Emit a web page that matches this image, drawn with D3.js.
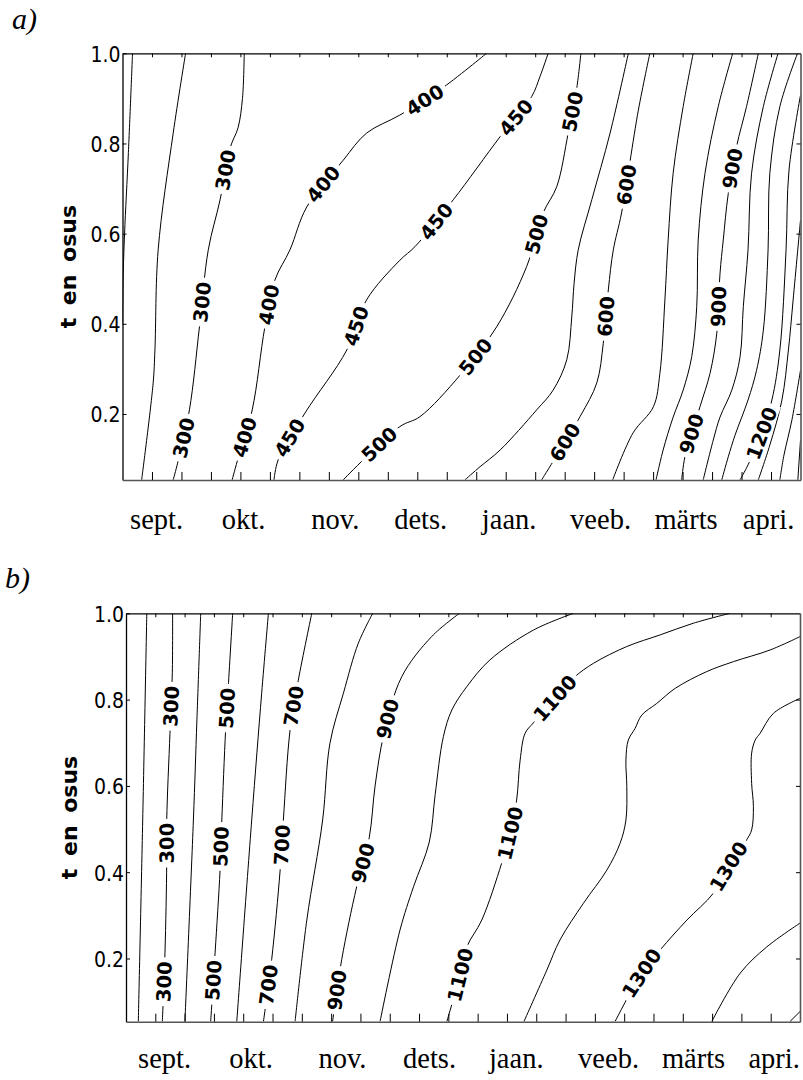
<!DOCTYPE html>
<html><head><meta charset="utf-8">
<script src="https://cdn.jsdelivr.net/npm/d3@7"></script>
<style>body{margin:0;background:#fff}</style>
</head><body>
<svg id="chart" width="803" height="1080"></svg>
<script>
// ---------- data ----------
const months = ["sept.","okt.","nov.","dets.","jaan.","veeb.","märts","apri."];
const monthPosA = [1.14,4.09,7.2,10.1,13.1,16.2,19.1,21.9];
const monthPosB = [1.3,4.25,7.37,10.34,13.3,16.45,19.35,22.1];
const yTicks = [0.2,0.4,0.6,0.8,1.0];
const decadeTicks = d3.range(1,23);
const yTitle = "t en osus";
const panelTitles = ["a)","b)"];

// contour lines: [level, [[decade, probability], ...]]
const linesA = [
 [200,[[0.34,1.0],[0.2,0.78],[0.07,0.6],[0.02,0.5],[0.0,0.40]]],
 [250,[[2.14,1.0],[1.72,0.823],[1.21,0.564],[1.10,0.342],[1.04,0.269],[0.65,0.054]]],
 [300,[[4.13,1.0],[4.07,0.90],[3.92,0.835],[3.65,0.790],[3.31,0.675],[2.91,0.564],[2.61,0.393],[2.27,0.209],[1.87,0.091],[1.72,0.054]]],
 [400,[[12.35,1.0],[10.77,0.919],[9.41,0.863],[8.28,0.823],[7.49,0.763],[6.25,0.659],[5.68,0.564],[5.17,0.497],[4.83,0.393],[4.40,0.209],[3.93,0.104],[3.72,0.054]]],
 [450,[[14.44,1.0],[14.16,0.948],[13.88,0.904],[12.81,0.815],[11.22,0.675],[9.92,0.571],[9.41,0.541],[8.28,0.453],[7.61,0.342],[6.19,0.202],[5.28,0.098],[5.14,0.054]]],
 [500,[[15.55,1.0],[15.41,0.923],[15.12,0.823],[14.73,0.704],[14.27,0.646],[13.71,0.527],[12.69,0.393],[11.45,0.286],[10.09,0.194],[9.41,0.172],[7.49,0.054]]],
 [550,[[17.16,1.0],[16.54,0.823],[15.92,0.675],[15.46,0.564],[15.32,0.490],[15.24,0.415],[15.07,0.320],[14.61,0.253],[14.05,0.209],[12.81,0.120],[12.13,0.083],[11.62,0.054]]],
 [600,[[17.89,1.0],[17.50,0.874],[16.93,0.646],[16.65,0.564],[16.48,0.475],[16.31,0.357],[16.09,0.269],[15.52,0.194],[14.22,0.054]]],
 [700,[[19.36,1.0],[19.02,0.882],[18.68,0.734],[18.51,0.586],[18.40,0.453],[18.23,0.290],[18.01,0.216],[17.32,0.158],[16.63,0.054]]],
 [800,[[20.70,1.0],[20.21,0.882],[19.76,0.734],[19.53,0.586],[19.48,0.438],[19.31,0.327],[19.02,0.253],[18.68,0.193],[18.34,0.120],[18.10,0.054]]],
 [900,[[21.57,1.0],[21.17,0.882],[20.83,0.793],[20.55,0.689],[20.38,0.586],[20.27,0.512],[20.16,0.379],[19.93,0.290],[19.59,0.216],[19.08,0.105],[18.97,0.054]]],
 [1000,[[22.24,1.0],[21.74,0.882],[21.34,0.734],[21.22,0.564],[21.06,0.438],[20.95,0.327],[20.67,0.253],[20.27,0.193],[20.04,0.142],[19.70,0.054]]],
 [1100,[[22.9,1.0],[22.30,0.882],[21.96,0.734],[21.90,0.564],[21.74,0.386],[21.51,0.297],[21.22,0.231],[20.78,0.153],[20.55,0.105],[20.33,0.054]]],
 [1200,[[23,0.907],[22.61,0.741],[22.51,0.564],[22.30,0.342],[22.03,0.231],[21.68,0.157],[21.22,0.087],[20.95,0.054]]],
 [1300,[[23,0.630],[22.75,0.453],[22.59,0.342],[22.37,0.231],[21.96,0.131],[21.57,0.054]]],
 [1400,[[23,0.297],[22.71,0.187],[22.44,0.109],[22.30,0.054]]],
 [1500,[[23,0.142],[22.91,0.054]]]
];
// contour labels: [level, decade, probability]
const labelsA = [
 [300,3.53,0.741],[300,2.69,0.448],[300,2.10,0.147],
 [400,10.26,0.896],[400,6.93,0.704],[400,5.00,0.442],[400,4.21,0.147],
 [450,13.37,0.856],[450,10.60,0.630],[450,8.00,0.393],[450,5.79,0.142],
 [500,15.29,0.870],[500,13.92,0.601],[500,12.02,0.324],[500,8.73,0.131],
 [600,17.16,0.708],[600,16.42,0.416],[600,15.01,0.138],
 [900,20.67,0.745],[900,20.21,0.438],[900,19.25,0.157],
 [1200,21.68,0.157]
];
const linesB = [
 [200,[[0.71,1.0],[0.57,0.521],[0.42,0.054]]],
 [300,[[1.59,1.0],[1.58,0.862],[1.50,0.722],[1.39,0.521],[1.39,0.421],[1.33,0.213],[1.24,0.054]]],
 [400,[[2.55,1.0],[2.42,0.753],[2.30,0.521],[2.01,0.054]]],
 [500,[[3.64,1.0],[3.49,0.830],[3.40,0.730],[3.27,0.521],[3.21,0.405],[3.04,0.213],[2.89,0.054]]],
 [600,[[4.86,1.0],[4.63,0.815],[4.29,0.521],[3.78,0.054]]],
 [700,[[6.34,1.0],[5.88,0.845],[5.60,0.730],[5.37,0.521],[5.26,0.405],[4.97,0.197],[4.69,0.054]]],
 [800,[[8.42,1.0],[7.93,0.931],[7.42,0.815],[6.96,0.699],[6.71,0.521],[6.17,0.289],[5.77,0.054]]],
 [900,[[11.38,1.0],[10.43,0.946],[9.41,0.853],[8.80,0.72],[8.50,0.600],[8.30,0.480],[7.87,0.366],[7.36,0.197],[7.05,0.054]]],
 [1000,[[15.27,1.0],[13.90,0.961],[12.42,0.892],[11.63,0.830],[11.12,0.776],[10.83,0.714],[10.55,0.580],[10.35,0.470],[9.81,0.366],[9.35,0.266],[8.67,0.054]]],
 [1100,[[20.61,1.0],[19.36,0.977],[18.23,0.950],[17.09,0.923],[15.95,0.884],[15.32,0.853],[14.64,0.803],[13.90,0.746],[13.62,0.722],[13.45,0.660],[13.33,0.567],[13.11,0.490],[12.82,0.421],[12.14,0.289],[11.63,0.227],[11.40,0.162],[10.95,0.054]]],
 [1200,[[23,0.946],[21.98,0.915],[20.73,0.888],[19.82,0.865],[18.74,0.826],[18.11,0.791],[17.60,0.764],[17.37,0.733],[17.14,0.706],[17.06,0.660],[17.09,0.598],[17.06,0.521],[16.86,0.467],[16.41,0.405],[15.61,0.328],[14.81,0.243],[14.36,0.173],[13.58,0.054]]],
 [1300,[[23,0.803],[22.09,0.768],[21.64,0.722],[21.47,0.706],[21.35,0.676],[21.35,0.606],[21.41,0.552],[21.35,0.498],[21.18,0.475],[20.56,0.413],[20.04,0.351],[19.14,0.289],[18.23,0.220],[17.60,0.166],[16.69,0.054]]],
 [1400,[[23,0.282],[21.87,0.227],[20.96,0.166],[19.99,0.054]]],
 [1500,[[23,0.077],[22.66,0.054]]]
];
const labelsB = [
 [300,1.61,0.784],[300,1.44,0.467],[300,1.31,0.146],
 [500,3.47,0.780],[500,3.24,0.459],[500,2.98,0.150],
 [700,5.77,0.784],[700,5.35,0.463],[700,4.91,0.139],
 [900,8.84,0.757],[900,8.10,0.421],[900,7.19,0.127],
 [1100,14.64,0.803],[1100,13.11,0.490],[1100,11.40,0.162],
 [1300,20.56,0.413],[1300,17.60,0.166]
];

// ---------- drawing ----------
const svg = d3.select("#chart");
const defs = svg.append("defs");

function drawPanel(cfg){
  const x = d3.scaleLinear().domain([0,23]).range([cfg.left,cfg.right]);
  const y = d3.scaleLinear().domain([0.0535,1]).range([cfg.bottom,cfg.top]);
  const g = svg.append("g");
  const clipId="clip"+cfg.id, maskId="mask"+cfg.id;
  defs.append("clipPath").attr("id",clipId).append("rect")
    .attr("x",cfg.left).attr("y",cfg.top).attr("width",cfg.right-cfg.left).attr("height",cfg.bottom-cfg.top);
  const mask = defs.append("mask").attr("id",maskId).attr("maskUnits","userSpaceOnUse")
    .attr("x",0).attr("y",0).attr("width",803).attr("height",1080);
  mask.append("rect").attr("width",803).attr("height",1080).attr("fill","white");

  const line = d3.line().x(d=>x(d[0])).y(d=>y(d[1])).curve(d3.curveCatmullRom.alpha(0.5));
  const lg = g.append("g").attr("clip-path",`url(#${clipId})`).append("g").attr("mask",`url(#${maskId})`);
  const paths = {};
  cfg.lines.forEach(([lvl,pts])=>{
    const p = lg.append("path").attr("d",line(pts)).attr("fill","none")
      .attr("stroke","#000").attr("stroke-width",1);
    paths[lvl]=p.node();
  });

  // axes
  const ax = g.append("g").attr("class","axes");
  const left = ax.append("g").attr("transform",`translate(${cfg.left},0)`)
    .call(d3.axisLeft(y).tickValues(yTicks).tickFormat(d3.format(".1f")).tickSizeInner(-4).tickSizeOuter(0).tickPadding(2));
  left.select(".domain").attr("stroke","#000").attr("stroke-width",1.3);
  left.selectAll("text").attr("font-family","'DejaVu Sans Condensed','DejaVu Sans',sans-serif")
    .style("font-stretch","condensed").attr("font-size",21).attr("fill","#000").attr("dy","0.38em");
  const top = ax.append("g").attr("transform",`translate(0,${cfg.top})`)
    .call(d3.axisTop(x).tickValues(decadeTicks).tickFormat("").tickSizeInner(-4).tickSizeOuter(0));
  top.select(".domain").attr("stroke","#000").attr("stroke-width",1.3);
  const bot = ax.append("g").attr("transform",`translate(0,${cfg.bottom})`)
    .call(d3.axisBottom(x).tickValues(decadeTicks).tickFormat("").tickSizeInner(-8).tickSizeOuter(0));
  bot.select(".domain").attr("stroke","#555").attr("stroke-width",1.6);
  const right = ax.append("g").attr("transform",`translate(${cfg.right},0)`)
    .call(d3.axisRight(y).tickValues([0.2,0.4,0.6,0.8]).tickFormat("").tickSizeInner(-4).tickSizeOuter(0));
  right.select(".domain").attr("stroke","#555").attr("stroke-width",1.6);
  ax.selectAll(".tick line").attr("stroke","#000");

  // month labels
  const mon = ax.append("g").attr("transform",`translate(0,${cfg.bottom})`)
    .call(d3.axisBottom(x).tickValues(cfg.monthPos).tickFormat((d,i)=>months[i]).tickSize(0));
  mon.select(".domain").remove();
  mon.selectAll("text").attr("y",cfg.monthBase-cfg.bottom).attr("dy",null)
    .attr("font-family","'Liberation Serif','Times New Roman',serif").attr("font-size",28.5).attr("fill","#000");

  // y title
  g.append("text").attr("transform",`translate(${cfg.titleX},${(cfg.top+cfg.bottom)/2}) rotate(-90)`)
    .attr("text-anchor","middle").attr("font-family","'DejaVu Sans',sans-serif").attr("font-weight","bold")
    .attr("font-size",22).attr("word-spacing",5).text(yTitle);
  // panel letter
  g.append("text").attr("x",cfg.letterX).attr("y",cfg.letterY)
    .attr("font-family","'Liberation Serif','Times New Roman',serif").attr("font-style","italic")
    .attr("font-size",30).text(cfg.letter);

  // contour labels
  const labG = g.append("g");
  cfg.labels.forEach(([lvl,u,pv])=>{
    const node = paths[lvl]; const L = node.getTotalLength();
    const tx = x(u), ty = y(pv);
    let best=0, bd=Infinity;
    for(let s=0;s<=L;s+=0.5){const pt=node.getPointAtLength(s);const d=(pt.x-tx)**2+(pt.y-ty)**2;if(d<bd){bd=d;best=s;}}
    const c = node.getPointAtLength(best);
    const p1 = node.getPointAtLength(Math.max(0,best-10)), p2 = node.getPointAtLength(Math.min(L,best+10));
    let ang = Math.atan2(p2.y-p1.y,p2.x-p1.x)*180/Math.PI;
    if(ang>45) ang-=180; else if(ang<-135) ang+=180;
    const tr = `translate(${c.x},${c.y}) rotate(${ang})`;
    const t = labG.append("text").attr("transform",tr).attr("text-anchor","middle").attr("dy","0.36em")
      .attr("font-family","'DejaVu Sans',sans-serif").attr("font-weight","bold").attr("font-size",19.5)
      .attr("fill","#000").text(lvl);
    const w = t.node().getComputedTextLength();
    mask.append("rect").attr("transform",tr).attr("x",-w/2-4).attr("y",-9).attr("width",w+8).attr("height",18).attr("fill","black");
  });
}

drawPanel({id:"a",left:122.5,right:800.5,top:53.3,bottom:480,lines:linesA,labels:labelsA,
  monthPos:monthPosA,monthBase:529,titleX:75.5,letter:panelTitles[0],letterX:12,letterY:29});
drawPanel({id:"b",left:126,right:800,top:613.3,bottom:1021.7,lines:linesB,labels:labelsB,
  monthPos:monthPosB,monthBase:1068,titleX:77,letter:panelTitles[1],letterX:5,letterY:588});
</script>
</body></html>
